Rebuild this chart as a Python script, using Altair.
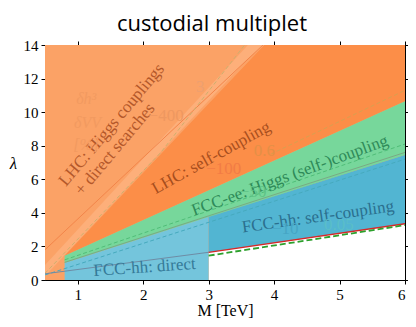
import altair as alt
import pandas as pd

# ---------------- data ----------------
M_domain = [0.5, 6]
lam_domain = [0, 14]
x_ticks = [1, 2, 3, 4, 5, 6]
y_ticks = [0, 2, 4, 6, 8, 10, 12, 14]

# filled regions: M positions, lower and upper lambda boundaries
bg_M, bg_lo, bg_hi = [0.5, 6], [0, 0], [14, 14]
band_M, band_lo, band_hi = [0.5, 3.6, 3.85], [0.22, 13.19, 14], [0.9, 14, 14]
lhcself_M, lhcself_lo, lhcself_hi = [0.8, 3.85, 6], [1.45, 6.85, 10.65], [1.45, 14, 14]
fccee_M, fccee_lo, fccee_hi = [0.8, 6], [1.02, 7.45], [1.45, 10.65]
direct_M, direct_lo, direct_hi = [0.8, 3], [0, 0], [1.02, 3.75]
fcchh_M, fcchh_lo, fcchh_hi = [3, 6], [1.65, 3.35], [3.75, 7.45]
allowed_M, allowed_lo, allowed_hi = [3, 6], [0, 0], [1.65, 3.35]

# lines
lhcline_M, lhcline_l = [0.5, 3.83], [1.8, 14]
c3_M, c3_l = [0.5, 2.27, 3.55], [0.4, 7.6, 14]
c06_M, c06_l = [3.95, 6], [7.5, 11.3]
eedash_M, eedash_l = [0.8, 6], [1.2, 8.1]
eesolid_M, eesolid_l = [0.8, 6], [1.05, 7.6]
hhdash_M, hhdash_l = [0.5, 6], [0.3, 7.2]
dirline_M, dirline_l = [0.5, 3], [0.37, 1.65]
red_M, red_l = [3, 6], [1.65, 3.35]
gdash_M, gdash_l = [3, 6], [1.45, 3.27]

# main labels
lab_text = ["LHC: Higgs couplings", "+ direct searches", "LHC: self-coupling",
            "FCC-ee: Higgs (self-)coupling", "FCC-hh: self-coupling", "FCC-hh: direct"]
lab_M = [1.52, 1.57, 3.04, 4.24, 4.67, 2.02]
lab_l = [9.24, 7.79, 7.28, 6.22, 3.76, 0.75]
lab_angle = [310, 310, 331, 340, 352, 356]
lab_color = ["#B4582A", "#B4582A", "#A84E1E", "#2E8A58", "#2B6F8E", "#347A98"]

# faint contour labels
cl_text = ["\u2212400", "3", "\u2212100", "0.6", "\u221250", "\u221210", "0.05"]
cl_M = [2.35, 2.87, 3.23, 3.85, 3.68, 4.17, 4.99]
cl_l = [9.75, 11.5, 6.6, 7.7, 5.23, 3.05, 3.3]
cl_color = ["#EE9860", "#EDA070", "#F27C45", "#E39046", "#5FC387", "#46A5C5", "#5ABEC8"]

# faint legend of contours
dl_text = ["\u03b4h\u00b3", "\u03b4VV", "[%]"]
dl_M = [1.13, 1.15, 1.13]
dl_l = [10.8, 9.35, 8.05]

# ---------------- chart ----------------
xs = alt.Scale(domain=M_domain, nice=False, zero=False)
ys = alt.Scale(domain=lam_domain, nice=False, zero=False)

X_MAIN = alt.Axis(values=x_ticks, title="M [TeV]", titleFont="Liberation Serif",
                  titleFontSize=16, titleFontWeight="normal", titleBaseline="alphabetic",
                  titleY=35, labelPadding=3)
Y_MAIN = alt.Axis(values=y_ticks, title="\u03bb", titleAngle=0, titleFont="Liberation Serif",
                  titleFontSize=17, titleFontStyle="italic", titleFontWeight="normal",
                  titleX=-32, titleY=118, titleAlign="center", titleBaseline="middle",
                  labelPadding=3)


def region(M, lo, hi, color, xax=None, yax=None):
    df = pd.DataFrame({"M": M, "lo": lo, "hi": hi})
    return alt.Chart(df).mark_area(color=color, opacity=1).encode(
        x=alt.X("M:Q", scale=xs, axis=xax),
        y=alt.Y("lo:Q", scale=ys, axis=yax),
        y2="hi:Q",
    )


def line(M, l, color, width=1.0, dash=None):
    df = pd.DataFrame({"M": M, "lo": l})
    kw = dict(color=color, strokeWidth=width, clip=True)
    if dash:
        kw["strokeDash"] = dash
    return alt.Chart(df).mark_line(**kw).encode(
        x=alt.X("M:Q", scale=xs, axis=None),
        y=alt.Y("lo:Q", scale=ys, axis=None),
    )


layers = [
    region(bg_M, bg_lo, bg_hi, "#FBA266", X_MAIN, Y_MAIN),
    region(allowed_M, allowed_lo, allowed_hi, "#FFFFFF"),
    region(band_M, band_lo, band_hi, "#FDAF7A"),
    region(lhcself_M, lhcself_lo, lhcself_hi, "#FC8E48"),
    region(fccee_M, fccee_lo, fccee_hi, "#77D79B"),
    region(direct_M, direct_lo, direct_hi, "#74C5DC"),
    region(fcchh_M, fcchh_lo, fcchh_hi, "#52B5D2"),
    line(lhcline_M, lhcline_l, "#F2854A", 1.0),
    line(c3_M, c3_l, "#CDAF6E", 1.0, [4, 2.5]),
    line(c06_M, c06_l, "#D7A050", 1.0, [4, 2.5]),
    line(eedash_M, eedash_l, "#50BE78", 1.0, [4, 2.5]),
    line(eesolid_M, eesolid_l, "#7AAA84", 1.0),
    line(hhdash_M, hhdash_l, "#46AABE", 1.0, [4, 2.5]),
    line(dirline_M, dirline_l, "#6E8CA5", 1.0),
    line(red_M, red_l, "#D62728", 1.3),
    line(gdash_M, gdash_l, "#2CA02C", 1.8, [6, 3]),
]

lab_df = pd.DataFrame({"t": lab_text, "M": lab_M, "lo": lab_l, "a": lab_angle, "c": lab_color})
layers.append(
    alt.Chart(lab_df).mark_text(font="Liberation Serif", fontSize=17, baseline="middle", align="center").encode(
        x=alt.X("M:Q", scale=xs, axis=None),
        y=alt.Y("lo:Q", scale=ys, axis=None),
        text="t:N",
        angle=alt.Angle("a:Q", scale=None),
        color=alt.Color("c:N", scale=None),
    )
)

cl_df = pd.DataFrame({"t": cl_text, "M": cl_M, "lo": cl_l, "c": cl_color})
layers.append(
    alt.Chart(cl_df).mark_text(font="Liberation Serif", fontSize=17, baseline="middle", align="center").encode(
        x=alt.X("M:Q", scale=xs, axis=None),
        y=alt.Y("lo:Q", scale=ys, axis=None),
        text="t:N",
        color=alt.Color("c:N", scale=None),
    )
)

dl_df = pd.DataFrame({"t": dl_text, "M": dl_M, "lo": dl_l})
layers.append(
    alt.Chart(dl_df).mark_text(font="Liberation Serif", fontSize=16, fontStyle="italic",
                               baseline="middle", align="center", color="#F29A60").encode(
        x=alt.X("M:Q", scale=xs, axis=None),
        y=alt.Y("lo:Q", scale=ys, axis=None),
        text="t:N",
    )
)

frame = alt.Chart(pd.DataFrame({"M": bg_M, "lo": bg_lo})).mark_point(opacity=0).encode(
    x=alt.X("M:Q", scale=xs, axis=alt.Axis(values=x_ticks, orient="top", labels=False, title=None)),
    y=alt.Y("lo:Q", scale=ys, axis=alt.Axis(values=y_ticks, orient="right", labels=False, title=None)),
)
layers.append(frame)

chart = alt.layer(*layers).resolve_axis(x="independent", y="independent").properties(
    width=360,
    height=235,
    padding={"left": 37, "top": 37, "right": 3, "bottom": 39},
    autosize=alt.AutoSizeParams(type="none"),
    title=alt.TitleParams(
        "custodial multiplet", font="Open Sans", fontSize=22, fontWeight="normal",
        color="black", anchor="middle", frame="group", baseline="alphabetic", offset=14,
        dx=-13, dy=29,
    ),
).configure_view(stroke="black", strokeWidth=1).configure_axis(
    grid=False,
    tickSize=4,
    tickColor="black",
    tickWidth=1,
    domainColor="black",
    domainWidth=1,
    labelFont="Liberation Serif",
    labelFontSize=15,
    labelColor="black",
    titleColor="black",
)

chart.save("out.html", embed_options={"renderer": "svg", "actions": False})
